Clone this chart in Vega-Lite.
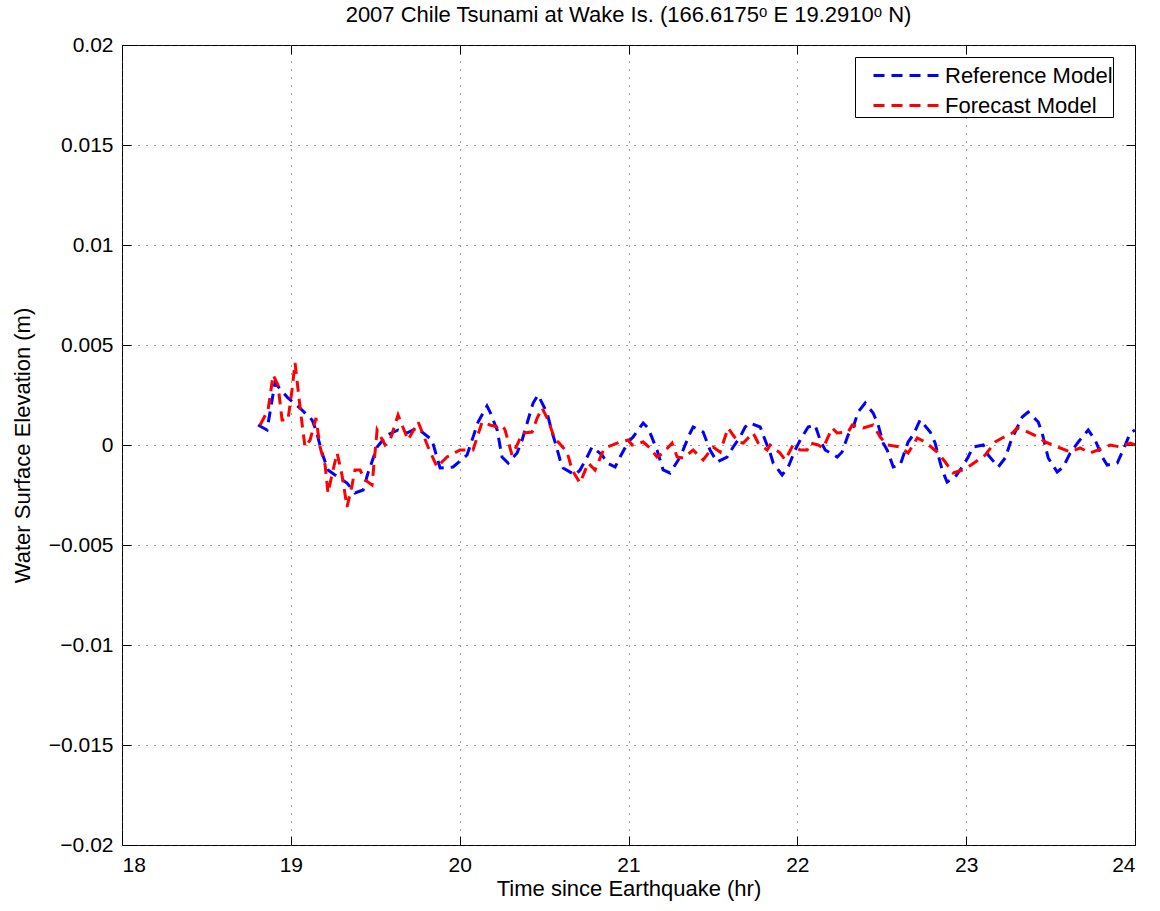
{
  "$schema": "https://vega.github.io/schema/vega-lite/v6.json",
  "autosize": "none",
  "width": 1013,
  "height": 800,
  "padding": {"left": 122, "top": 45, "right": 25, "bottom": 66},
  "background": "white",
  "title": {"text": "2007 Chile Tsunami at Wake Is. (166.6175ᵒ E 19.2910ᵒ N)", "font": "Liberation Sans", "fontSize": 22, "fontWeight": "normal", "color": "black", "offset": 7},
  "config": {
    "view": {"stroke": "black", "strokeWidth": 1},
    "font": "Liberation Sans",
    "axis": {"labelFont": "Liberation Sans", "titleFont": "Liberation Sans", "labelFontSize": 21, "titleFontSize": 22, "titleFontWeight": "normal", "labelColor": "black", "titleColor": "black", "domain": false, "tickColor": "black", "tickSize": -9, "grid": true, "gridColor": "#444", "gridDash": [1, 7], "gridWidth": 1}
  },
  "data": {"values": [
    {"model":"Reference Model","t":18.806,"v":0.001},{"model":"Reference Model","t":18.859,"v":0.00075},{"model":"Reference Model","t":18.906,"v":0.0031},{"model":"Reference Model","t":18.983,"v":0.00235},{"model":"Reference Model","t":19.054,"v":0.00185},{"model":"Reference Model","t":19.126,"v":0.00125},{"model":"Reference Model","t":19.149,"v":0.00075},{"model":"Reference Model","t":19.185,"v":-0.0004},{"model":"Reference Model","t":19.22,"v":-0.00125},{"model":"Reference Model","t":19.262,"v":-0.0015},{"model":"Reference Model","t":19.333,"v":-0.0019},{"model":"Reference Model","t":19.38,"v":-0.0024},{"model":"Reference Model","t":19.428,"v":-0.00225},{"model":"Reference Model","t":19.457,"v":-0.0014},{"model":"Reference Model","t":19.511,"v":-0.0001},{"model":"Reference Model","t":19.57,"v":0.0005},{"model":"Reference Model","t":19.635,"v":0.00075},{"model":"Reference Model","t":19.688,"v":0.0006},{"model":"Reference Model","t":19.748,"v":0.00085},{"model":"Reference Model","t":19.836,"v":0.00025},{"model":"Reference Model","t":19.884,"v":-0.00115},{"model":"Reference Model","t":19.961,"v":-0.0011},{"model":"Reference Model","t":20.044,"v":-0.0005},{"model":"Reference Model","t":20.109,"v":0.00115},{"model":"Reference Model","t":20.162,"v":0.00195},{"model":"Reference Model","t":20.18,"v":0.00165},{"model":"Reference Model","t":20.222,"v":0.00075},{"model":"Reference Model","t":20.251,"v":-0.0006},{"model":"Reference Model","t":20.287,"v":-0.0009},{"model":"Reference Model","t":20.34,"v":-0.0004},{"model":"Reference Model","t":20.37,"v":0.00025},{"model":"Reference Model","t":20.405,"v":0.00125},{"model":"Reference Model","t":20.435,"v":0.0021},{"model":"Reference Model","t":20.464,"v":0.0025},{"model":"Reference Model","t":20.518,"v":0.0016},{"model":"Reference Model","t":20.547,"v":0.00065},{"model":"Reference Model","t":20.565,"v":0.00015},{"model":"Reference Model","t":20.595,"v":-0.00075},{"model":"Reference Model","t":20.613,"v":-0.00115},{"model":"Reference Model","t":20.684,"v":-0.0015},{"model":"Reference Model","t":20.713,"v":-0.00125},{"model":"Reference Model","t":20.755,"v":-0.0006},{"model":"Reference Model","t":20.784,"v":-0.0001},{"model":"Reference Model","t":20.844,"v":-0.0005},{"model":"Reference Model","t":20.873,"v":-0.0009},{"model":"Reference Model","t":20.921,"v":-0.0011},{"model":"Reference Model","t":20.95,"v":-0.0006},{"model":"Reference Model","t":20.998,"v":0.00015},{"model":"Reference Model","t":21.027,"v":0.0004},{"model":"Reference Model","t":21.087,"v":0.0011},{"model":"Reference Model","t":21.116,"v":0.00085},{"model":"Reference Model","t":21.169,"v":-0.00025},{"model":"Reference Model","t":21.205,"v":-0.00125},{"model":"Reference Model","t":21.246,"v":-0.0014},{"model":"Reference Model","t":21.306,"v":-0.0006},{"model":"Reference Model","t":21.365,"v":0.0006},{"model":"Reference Model","t":21.383,"v":0.0009},{"model":"Reference Model","t":21.442,"v":0.00065},{"model":"Reference Model","t":21.483,"v":-0.00025},{"model":"Reference Model","t":21.525,"v":-0.00085},{"model":"Reference Model","t":21.584,"v":-0.0006},{"model":"Reference Model","t":21.62,"v":-0.0001},{"model":"Reference Model","t":21.661,"v":0.0004},{"model":"Reference Model","t":21.691,"v":0.0009},{"model":"Reference Model","t":21.72,"v":0.0011},{"model":"Reference Model","t":21.78,"v":0.0009},{"model":"Reference Model","t":21.809,"v":0.00025},{"model":"Reference Model","t":21.839,"v":-0.0004},{"model":"Reference Model","t":21.857,"v":-0.0009},{"model":"Reference Model","t":21.91,"v":-0.0015},{"model":"Reference Model","t":21.946,"v":-0.0011},{"model":"Reference Model","t":21.987,"v":-0.00025},{"model":"Reference Model","t":22.017,"v":0.00025},{"model":"Reference Model","t":22.064,"v":0.0009},{"model":"Reference Model","t":22.105,"v":0.001},{"model":"Reference Model","t":22.135,"v":0.00025},{"model":"Reference Model","t":22.165,"v":-0.00025},{"model":"Reference Model","t":22.236,"v":-0.0006},{"model":"Reference Model","t":22.265,"v":-0.00035},{"model":"Reference Model","t":22.301,"v":0.0005},{"model":"Reference Model","t":22.331,"v":0.0009},{"model":"Reference Model","t":22.36,"v":0.00165},{"model":"Reference Model","t":22.402,"v":0.0021},{"model":"Reference Model","t":22.449,"v":0.0016},{"model":"Reference Model","t":22.479,"v":0.001},{"model":"Reference Model","t":22.508,"v":0.0001},{"model":"Reference Model","t":22.532,"v":-0.00025},{"model":"Reference Model","t":22.568,"v":-0.0011},{"model":"Reference Model","t":22.609,"v":-0.001},{"model":"Reference Model","t":22.656,"v":0.00015},{"model":"Reference Model","t":22.686,"v":0.0005},{"model":"Reference Model","t":22.727,"v":0.00125},{"model":"Reference Model","t":22.787,"v":0.00065},{"model":"Reference Model","t":22.816,"v":0.0001},{"model":"Reference Model","t":22.834,"v":-0.0005},{"model":"Reference Model","t":22.858,"v":-0.00125},{"model":"Reference Model","t":22.887,"v":-0.00185},{"model":"Reference Model","t":22.935,"v":-0.0016},{"model":"Reference Model","t":22.976,"v":-0.0011},{"model":"Reference Model","t":23.012,"v":-0.0006},{"model":"Reference Model","t":23.041,"v":-0.0001},{"model":"Reference Model","t":23.101,"v":0.0},{"model":"Reference Model","t":23.13,"v":-0.0005},{"model":"Reference Model","t":23.19,"v":-0.0011},{"model":"Reference Model","t":23.231,"v":-0.00065},{"model":"Reference Model","t":23.261,"v":0.0001},{"model":"Reference Model","t":23.29,"v":0.00065},{"model":"Reference Model","t":23.332,"v":0.0014},{"model":"Reference Model","t":23.367,"v":0.00165},{"model":"Reference Model","t":23.427,"v":0.00115},{"model":"Reference Model","t":23.45,"v":0.0006},{"model":"Reference Model","t":23.486,"v":-0.00065},{"model":"Reference Model","t":23.539,"v":-0.00135},{"model":"Reference Model","t":23.575,"v":-0.0011},{"model":"Reference Model","t":23.616,"v":-0.0004},{"model":"Reference Model","t":23.664,"v":0.00015},{"model":"Reference Model","t":23.723,"v":0.00075},{"model":"Reference Model","t":23.764,"v":0.00025},{"model":"Reference Model","t":23.806,"v":-0.0006},{"model":"Reference Model","t":23.835,"v":-0.001},{"model":"Reference Model","t":23.895,"v":-0.0009},{"model":"Reference Model","t":23.93,"v":-0.00025},{"model":"Reference Model","t":23.972,"v":0.0006},{"model":"Reference Model","t":24.0,"v":0.00075},
    {"model":"Forecast Model","t":18.818,"v":0.001},{"model":"Forecast Model","t":18.865,"v":0.00175},{"model":"Forecast Model","t":18.895,"v":0.0035},{"model":"Forecast Model","t":18.924,"v":0.003},{"model":"Forecast Model","t":18.948,"v":0.00125},{"model":"Forecast Model","t":18.983,"v":0.00125},{"model":"Forecast Model","t":19.007,"v":0.00275},{"model":"Forecast Model","t":19.025,"v":0.0041},{"model":"Forecast Model","t":19.043,"v":0.00275},{"model":"Forecast Model","t":19.06,"v":0.0015},{"model":"Forecast Model","t":19.084,"v":-0.0001},{"model":"Forecast Model","t":19.114,"v":0.00025},{"model":"Forecast Model","t":19.149,"v":0.00135},{"model":"Forecast Model","t":19.173,"v":-0.0001},{"model":"Forecast Model","t":19.203,"v":-0.001},{"model":"Forecast Model","t":19.22,"v":-0.0024},{"model":"Forecast Model","t":19.25,"v":-0.00125},{"model":"Forecast Model","t":19.274,"v":-0.0004},{"model":"Forecast Model","t":19.303,"v":-0.0015},{"model":"Forecast Model","t":19.333,"v":-0.0031},{"model":"Forecast Model","t":19.363,"v":-0.002},{"model":"Forecast Model","t":19.38,"v":-0.00125},{"model":"Forecast Model","t":19.41,"v":-0.00125},{"model":"Forecast Model","t":19.44,"v":-0.00175},{"model":"Forecast Model","t":19.481,"v":-0.002},{"model":"Forecast Model","t":19.511,"v":0.00075},{"model":"Forecast Model","t":19.558,"v":0.0},{"model":"Forecast Model","t":19.588,"v":0.00025},{"model":"Forecast Model","t":19.635,"v":0.0015},{"model":"Forecast Model","t":19.694,"v":0.00025},{"model":"Forecast Model","t":19.754,"v":0.00115},{"model":"Forecast Model","t":19.813,"v":-0.0001},{"model":"Forecast Model","t":19.866,"v":-0.0011},{"model":"Forecast Model","t":19.925,"v":-0.0006},{"model":"Forecast Model","t":20.002,"v":-0.00025},{"model":"Forecast Model","t":20.079,"v":-0.00025},{"model":"Forecast Model","t":20.133,"v":0.00115},{"model":"Forecast Model","t":20.18,"v":0.001},{"model":"Forecast Model","t":20.222,"v":0.0009},{"model":"Forecast Model","t":20.251,"v":0.001},{"model":"Forecast Model","t":20.269,"v":0.00075},{"model":"Forecast Model","t":20.31,"v":-0.0005},{"model":"Forecast Model","t":20.346,"v":0.0001},{"model":"Forecast Model","t":20.37,"v":0.0006},{"model":"Forecast Model","t":20.429,"v":0.00065},{"model":"Forecast Model","t":20.459,"v":0.00135},{"model":"Forecast Model","t":20.488,"v":0.00185},{"model":"Forecast Model","t":20.524,"v":0.00125},{"model":"Forecast Model","t":20.565,"v":0.00025},{"model":"Forecast Model","t":20.583,"v":0.00015},{"model":"Forecast Model","t":20.636,"v":-0.00035},{"model":"Forecast Model","t":20.666,"v":-0.00125},{"model":"Forecast Model","t":20.713,"v":-0.0019},{"model":"Forecast Model","t":20.761,"v":-0.0009},{"model":"Forecast Model","t":20.802,"v":-0.00125},{"model":"Forecast Model","t":20.844,"v":-0.0004},{"model":"Forecast Model","t":20.861,"v":-0.00015},{"model":"Forecast Model","t":20.95,"v":0.00015},{"model":"Forecast Model","t":20.998,"v":0.00025},{"model":"Forecast Model","t":21.021,"v":0.0},{"model":"Forecast Model","t":21.087,"v":0.00015},{"model":"Forecast Model","t":21.128,"v":-0.00015},{"model":"Forecast Model","t":21.169,"v":-0.0006},{"model":"Forecast Model","t":21.205,"v":-0.0004},{"model":"Forecast Model","t":21.258,"v":0.0001},{"model":"Forecast Model","t":21.288,"v":-0.0006},{"model":"Forecast Model","t":21.324,"v":-0.00065},{"model":"Forecast Model","t":21.383,"v":-0.00025},{"model":"Forecast Model","t":21.442,"v":-0.00075},{"model":"Forecast Model","t":21.501,"v":-0.0001},{"model":"Forecast Model","t":21.543,"v":-0.00035},{"model":"Forecast Model","t":21.572,"v":0.0004},{"model":"Forecast Model","t":21.59,"v":0.00085},{"model":"Forecast Model","t":21.649,"v":0.00015},{"model":"Forecast Model","t":21.679,"v":0.0001},{"model":"Forecast Model","t":21.738,"v":0.0006},{"model":"Forecast Model","t":21.768,"v":0.0001},{"model":"Forecast Model","t":21.821,"v":-0.00025},{"model":"Forecast Model","t":21.839,"v":0.0},{"model":"Forecast Model","t":21.898,"v":-0.0004},{"model":"Forecast Model","t":21.928,"v":-0.00075},{"model":"Forecast Model","t":21.975,"v":0.0},{"model":"Forecast Model","t":22.017,"v":-0.00025},{"model":"Forecast Model","t":22.058,"v":-0.00025},{"model":"Forecast Model","t":22.076,"v":0.0001},{"model":"Forecast Model","t":22.123,"v":0.0},{"model":"Forecast Model","t":22.153,"v":-0.00015},{"model":"Forecast Model","t":22.206,"v":0.00085},{"model":"Forecast Model","t":22.236,"v":0.0006},{"model":"Forecast Model","t":22.301,"v":0.00065},{"model":"Forecast Model","t":22.325,"v":0.001},{"model":"Forecast Model","t":22.39,"v":0.00085},{"model":"Forecast Model","t":22.449,"v":0.001},{"model":"Forecast Model","t":22.491,"v":0.0004},{"model":"Forecast Model","t":22.532,"v":0.0},{"model":"Forecast Model","t":22.609,"v":-0.0001},{"model":"Forecast Model","t":22.656,"v":-0.0004},{"model":"Forecast Model","t":22.71,"v":0.00035},{"model":"Forecast Model","t":22.757,"v":0.00015},{"model":"Forecast Model","t":22.828,"v":-0.00035},{"model":"Forecast Model","t":22.876,"v":-0.00085},{"model":"Forecast Model","t":22.923,"v":-0.0014},{"model":"Forecast Model","t":22.976,"v":-0.00125},{"model":"Forecast Model","t":23.012,"v":-0.0011},{"model":"Forecast Model","t":23.071,"v":-0.00075},{"model":"Forecast Model","t":23.113,"v":-0.0005},{"model":"Forecast Model","t":23.172,"v":0.00015},{"model":"Forecast Model","t":23.213,"v":0.00035},{"model":"Forecast Model","t":23.273,"v":0.0006},{"model":"Forecast Model","t":23.302,"v":0.00085},{"model":"Forecast Model","t":23.338,"v":0.00075},{"model":"Forecast Model","t":23.427,"v":0.0004},{"model":"Forecast Model","t":23.468,"v":0.00015},{"model":"Forecast Model","t":23.557,"v":-0.00015},{"model":"Forecast Model","t":23.616,"v":-0.00035},{"model":"Forecast Model","t":23.675,"v":-0.00015},{"model":"Forecast Model","t":23.735,"v":-0.0004},{"model":"Forecast Model","t":23.812,"v":-0.00015},{"model":"Forecast Model","t":23.853,"v":0.0},{"model":"Forecast Model","t":23.912,"v":-0.0001},{"model":"Forecast Model","t":23.972,"v":0.0001},{"model":"Forecast Model","t":24.0,"v":0.0}
  ]},
  "layer": [
    {
      "mark": {"type": "line", "strokeWidth": 3, "strokeDash": [11, 7], "clip": true},
      "encoding": {
        "x": {"field": "t", "type": "quantitative", "scale": {"domain": [18, 24], "nice": false, "zero": false},
              "axis": {"title": "Time since Earthquake (hr)", "values": [18, 19, 20, 21, 22, 23, 24], "labelPadding": 18, "titlePadding": 3, "orient": "bottom"}},
        "y": {"field": "v", "type": "quantitative", "scale": {"domain": [-0.02, 0.02], "nice": false, "zero": false},
              "axis": {"title": "Water Surface Elevation (m)", "values": [-0.02, -0.015, -0.01, -0.005, 0, 0.005, 0.01, 0.015, 0.02], "labelExpr": "datum.value == 0 ? '0' : replace(format(datum.value, '~g'), '-', '−')", "labelPadding": 18, "titlePadding": 14, "orient": "left"}},
        "color": {"field": "model", "type": "nominal", "scale": {"domain": ["Reference Model", "Forecast Model"], "range": ["#0000ff", "#ff0000"]},
                  "legend": {"title": null, "orient": "none", "legendX": 733, "legendY": 12, "strokeColor": "black", "fillColor": "white", "padding": 0, "labelFont": "Liberation Sans", "labelFontSize": 22, "labelColor": "black", "labelLimit": 400, "labelExpr": "datum.label + '\u00a0\u00a0'", "symbolType": "M0,0H4", "symbolStrokeWidth": 3, "symbolDash": [11, 7], "symbolSize": 1125, "rowPadding": -1, "labelOffset": 53}},
        "detail": {"field": "model"}
      }
    },
    {
      "mark": {"type": "line", "opacity": 0},
      "encoding": {
        "x": {"field": "t", "type": "quantitative", "scale": {"domain": [18, 24], "nice": false, "zero": false},
              "axis": {"orient": "top", "title": null, "labels": false, "grid": false, "values": [18, 19, 20, 21, 22, 23, 24]}},
        "y": {"field": "v", "type": "quantitative", "scale": {"domain": [-0.02, 0.02], "nice": false, "zero": false},
              "axis": {"orient": "right", "title": null, "labels": false, "grid": false, "values": [-0.02, -0.015, -0.01, -0.005, 0, 0.005, 0.01, 0.015, 0.02]}}
      }
    }
  ],
  "resolve": {"axis": {"x": "independent", "y": "independent"}}
}
